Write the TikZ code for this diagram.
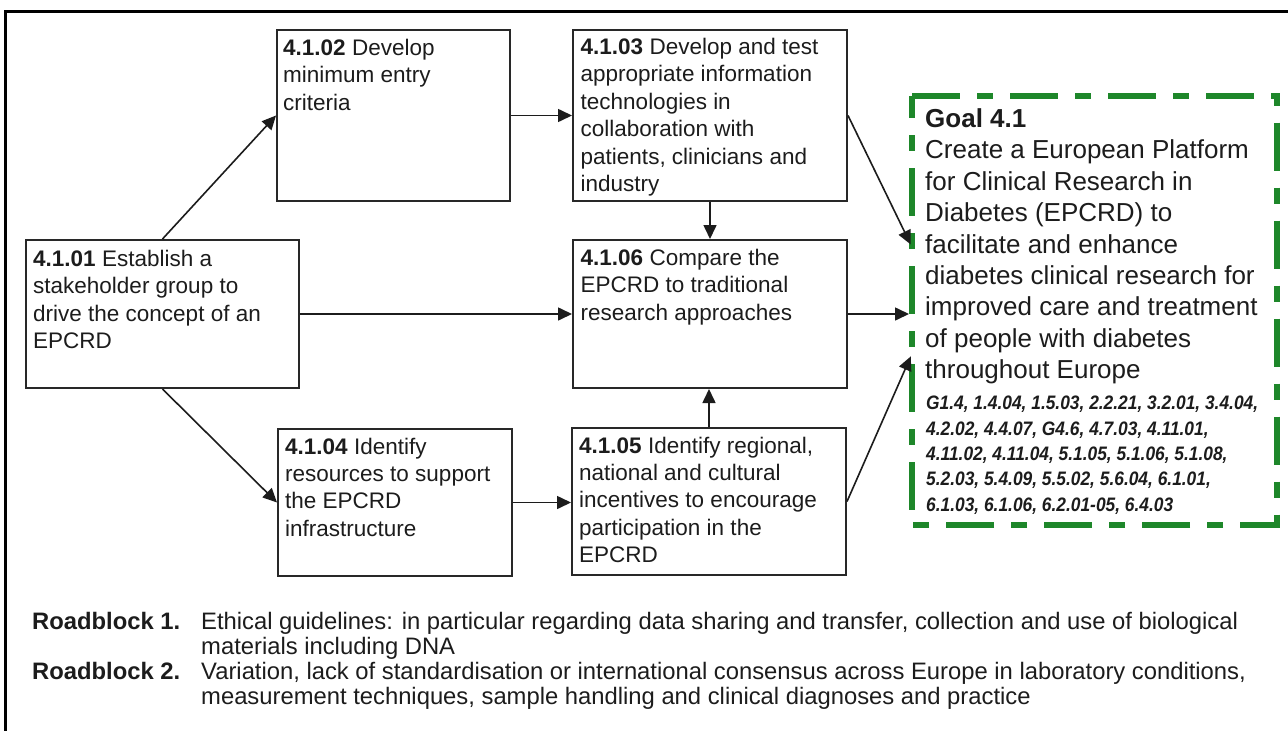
\documentclass[tikz,border=0pt]{standalone}
\usepackage{fontspec}
\setmainfont{Liberation Sans}
\newfontfamily\refsfont[FakeStretch=0.89]{Liberation Sans}
\usetikzlibrary{arrows.meta,calc}

\definecolor{ink}{RGB}{28,28,28}
\definecolor{edge}{RGB}{40,40,40}
\definecolor{goalgreen}{RGB}{30,135,42}

\tikzset{
  stepbox/.style={draw=edge, line width=2pt, inner sep=0pt, anchor=north west},
  boxtext/.style={anchor=north west, inner sep=0pt, align=left, text=ink,
    font=\fontsize{22.5}{27.4}\selectfont},
  goaltext/.style={anchor=north west, inner sep=0pt, align=left, text=ink,
    font=\fontsize{26}{31.4}\selectfont},
  reftext/.style={anchor=north west, inner sep=0pt, align=left, text=ink,
    font=\refsfont\bfseries\itshape\fontsize{19.5}{25.3}\selectfont},
  roadtext/.style={anchor=north west, inner sep=0pt, align=left, text=ink,
    font=\fontsize{23.8}{25}\selectfont},
  flow/.style={draw=ink, line width=1.6pt, -{Triangle[length=14pt,width=13pt]}},
  goalborder/.style={draw=goalgreen, line width=6pt,
    dash pattern=on 48pt off 17pt on 16pt off 17pt},
}

\begin{document}
\begin{tikzpicture}[x=1pt,y=-1pt]
\useasboundingbox (0,0) rectangle (1288,731);

% outer frame (right and bottom sides run past the page)
\draw[line width=3pt, draw=black] (1295,11) -- (5,11) -- (5,738);

% action boxes
\node[stepbox, minimum width=273pt, minimum height=148pt] (n01) at (25,239) {};
\node[stepbox, minimum width=233pt, minimum height=171pt] (n02) at (276,29) {};
\node[stepbox, minimum width=274pt, minimum height=171pt] (n03) at (572,29) {};
\node[stepbox, minimum width=234pt, minimum height=147pt] (n04) at (277,428) {};
\node[stepbox, minimum width=274pt, minimum height=147pt] (n05) at (571,427) {};
\node[stepbox, minimum width=274pt, minimum height=148pt] (n06) at (572,239) {};

% box texts
\node[boxtext] (t01) at ([shift={(8,11)}]n01.north west)
  {\textbf{4.1.01} Establish a\\stakeholder group to\\drive the concept of an\\EPCRD};
\node[boxtext] (t02) at ([shift={(7,10)}]n02.north west)
  {\textbf{4.1.02} Develop\\minimum entry\\criteria};
\node[boxtext] (t03) at ([shift={(8.5,9)}]n03.north west)
  {\textbf{4.1.03} Develop and test\\appropriate information\\technologies in\\collaboration with\\patients, clinicians and\\industry};
\node[boxtext] (t04) at ([shift={(8,9.5)}]n04.north west)
  {\textbf{4.1.04} Identify\\resources to support\\the EPCRD\\infrastructure};
\node[boxtext] (t05) at ([shift={(8,9.5)}]n05.north west)
  {\textbf{4.1.05} Identify regional,\\national and cultural\\incentives to encourage\\participation in the\\EPCRD};
\node[boxtext] (t06) at ([shift={(8.5,10)}]n06.north west)
  {\textbf{4.1.06} Compare the\\EPCRD to traditional\\research approaches};

% goal box
\node[inner sep=0pt, anchor=north west, minimum width=365pt, minimum height=429pt] (goal) at (912,96) {};
\draw[goalborder] (goal.north west) -- (goal.north east) -- (goal.south east)
  -- (goal.south west) -- cycle;
\node[goaltext] (gtxt) at (925,108.5)
  {\textbf{Goal 4.1}\\Create a European Platform\\for Clinical Research in\\Diabetes (EPCRD) to\\facilitate and enhance\\diabetes clinical research for\\improved care and treatment\\of people with diabetes\\throughout Europe};
\node[reftext] (grefs) at (926,396)
  {G1.4, 1.4.04, 1.5.03, 2.2.21, 3.2.01, 3.4.04,\\4.2.02, 4.4.07, G4.6, 4.7.03, 4.11.01,\\4.11.02, 4.11.04, 5.1.05, 5.1.06, 5.1.08,\\5.2.03, 5.4.09, 5.5.02, 5.6.04, 6.1.01,\\6.1.03, 6.1.06, 6.2.01-05, 6.4.03};

% connectors
\draw[flow] (n01.north) -- (n02.west);
\draw[flow] (n02.east) -- (n02.east -| n03.west);
\draw[flow] (n03.south) -- (n06.north);
\draw[flow] (n01.east) -- (n06.west);
\draw[flow] (n01.south) -- (n04.west);
\draw[flow] (n04.east) -- (n04.east -| n05.west);
\draw[flow] (n05.north) -- (n05.north |- n06.south);
\draw[flow, shorten >=3pt] (n03.east) -- ($(goal.north west)!0.352!(goal.south west)$);
\draw[flow, shorten >=3pt] (n06.east) -- (n06.east -| goal.west);
\draw[flow, shorten >=3pt] (n05.east) -- ($(goal.north west)!0.6!(goal.south west)$);

% roadblocks
\node[roadtext] (rb1) at (32,612)
  {\makebox[169pt][l]{\bfseries Roadblock 1.}Ethical guidelines: in particular regarding data sharing and transfer, collection and use of biological\\
   \hspace*{169pt}materials including DNA};
\node[roadtext] (rb2) at (32,662)
  {\makebox[169pt][l]{\bfseries Roadblock 2.}Variation, lack of standardisation or international consensus across Europe in laboratory conditions,\\
   \hspace*{169pt}measurement techniques, sample handling and clinical diagnoses and practice};
\end{tikzpicture}
\end{document}
